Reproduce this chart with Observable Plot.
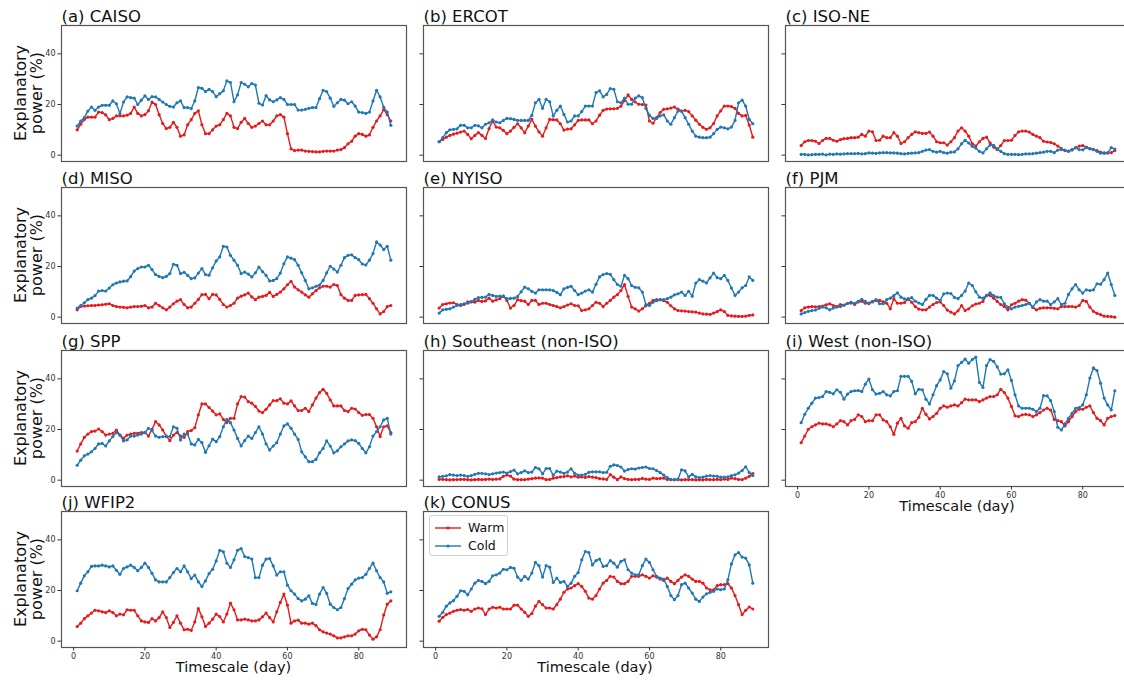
<!DOCTYPE html>
<html><head><meta charset="utf-8">
<script src="https://cdn.jsdelivr.net/npm/d3@7"></script>
<script src="https://cdn.jsdelivr.net/npm/@observablehq/plot@0.6"></script>
<style>
html,body{margin:0;padding:0;background:#fff;overflow:hidden;}
#fig{position:relative;width:1124px;height:680px;overflow:hidden;font-family:"DejaVu Sans",sans-serif;background:#fff;}
.panel{position:absolute;}
.ylab{position:absolute;width:160px;text-align:center;font-size:16px;line-height:16px;color:#111;transform:translate(-50%,-50%) rotate(-90deg);white-space:nowrap;}
.xlab{position:absolute;font-size:14.5px;color:#111;transform:translateX(-50%);white-space:nowrap;}
.legend{position:absolute;border:1px solid #d0d0d0;border-radius:3px;background:#fff;box-sizing:border-box;}
.legend .item{position:absolute;left:0;height:16px;font-size:12.5px;line-height:16px;color:#111;}
.legend svg{position:absolute;left:4px;top:3px;}
.legend span{position:absolute;left:38px;top:0;}
</style></head><body><div id="fig"></div>
<script>
// ---------- data ----------
const days = d3.range(1, 90);
const xTicks = [0, 20, 40, 60, 80];
const yTicks = [0, 20, 40];
const seriesNames = ["Warm", "Cold"];
const titles = ["(a) CAISO","(b) ERCOT","(c) ISO-NE","(d) MISO","(e) NYISO","(f) PJM","(g) SPP","(h) Southeast (non-ISO)","(i) West (non-ISO)","(j) WFIP2","(k) CONUS"];

const caisoWarm = [10,12.2,14.1,15,15,15,17,16.8,15.9,14,14.5,15.5,15.5,15.5,15.8,16.5,19,16.5,15.5,16,17.5,21,20,16,12.5,10.5,11,13,11,7.5,8,12,14,16.5,17.5,12,8.5,8.5,10,11.5,12,14,16.5,15.5,11,10.5,13,14.5,12.5,11,11.5,12.5,13.5,12,12,13.5,15.5,16,15,8.5,2.5,1.8,2,2,1.6,1.5,1.4,1.3,1.3,1.5,1.6,1.6,1.6,2,2.2,3,4.5,5.5,7.5,8.5,8.2,7.5,8,11,13.5,15.5,18,16,13.5];
const caisoCold = [11.5,13.5,14.8,17.4,19,17.7,19,19.7,19.7,19.7,21.4,20.3,16.4,21,23,22.7,22.5,20,21.7,23.4,22,23.1,23,22,21,20,19.3,19,20.7,21.4,18.8,18.8,18.4,21.4,26.7,26.4,25.1,26,25.1,23.1,24.3,25.4,29.3,28.7,21.1,23.8,28.7,28,27,28.3,27.7,20.5,19.8,23.5,21.8,21.1,21.8,22.7,22,20,20,20,17.8,17.8,18.1,18.5,18.8,18.8,22.3,25.6,25.1,22.5,19.3,20.7,22,21.7,20.3,21.1,19.4,17,16.8,16.5,17,21.4,25.6,23,19,17,11.8];
const ercotWarm = [5.3,6.2,7.1,7.8,8.3,8.7,9.1,9.5,8.2,6.5,7.8,8.9,7.8,6.6,10.5,13.5,11.1,10.8,9.8,8.5,9.5,11,12.4,10.8,8.9,11.5,14.1,11.5,9.2,7.5,10.8,14.1,14,13.9,12.4,9.9,10.3,10.4,12,13.7,13.9,13.9,13.9,12.4,13.5,15.8,17.7,18.2,18.3,18.3,18.5,19.4,21.5,23.8,22,21,20.1,20,19.8,13.5,12.6,14.8,16.8,18.1,18.3,18.6,19,18.2,17.4,17.7,17.2,15.5,13.8,12.2,11,10.2,10.8,12.5,15.5,17.5,19.4,19.4,19.2,18.5,16.5,15.5,15.7,11.9,7.1];
const ercotCold = [5.3,6.9,8.9,10,10.2,10.4,11.8,11.8,10.8,10.8,11.8,11.6,10.8,12.2,12.8,13.9,13.1,12.8,13.7,14.5,14.4,14.1,13.7,13.7,13.7,13.7,15.7,20.7,22,18.5,22,21.1,15.5,17.7,19.4,16.1,13.1,13.5,15.5,15.5,17.2,19.4,19.4,19.4,24.7,25.4,23,24,26.3,26,21.1,20.7,22.5,20.1,20.1,22.5,23.4,22.7,18.5,15.7,14.5,14.5,15.5,15.9,13.5,12.2,14.8,17.4,17.4,14.8,12.2,9.5,7.5,7.1,6.9,6.9,7.1,8.5,10.2,11.1,10.8,10.4,11.1,13.7,20.7,21.7,19.4,14.1,12.4];
const isoneWarm = [3.8,5.3,5.8,5.8,5.5,4.6,5.8,6.6,6.6,5.9,5.5,6.1,6.5,6.6,6.9,6.9,7.1,8.2,7.5,9.5,9.2,5.8,5.9,7.5,6.9,6.9,8.9,7.5,4.6,5.3,6.9,8.2,9.2,8.9,8.6,8.6,9.1,7.5,5.3,4.9,4.9,4,5.3,6.9,9.5,10.8,9.5,7.5,4.6,3.6,5.3,6.6,7.1,4.9,3.2,2.2,3.8,5.8,5.8,5.9,7.8,9.2,9.5,9.5,9.1,8.2,7.5,6.9,5.5,5.2,5,4.5,3.6,2.6,1.8,1.6,2.2,2.9,3.6,3.8,3.2,2.5,2.2,1.8,1.2,0.9,0.9,1.0,1.8];
const isoneCold = [0.3,0.3,0.1,0.2,0.3,0.3,0.4,0.1,0.4,0.3,0.5,0.4,0.5,0.6,0.6,0.6,0.7,0.5,0.6,0.9,0.8,0.7,0.9,1.0,1.0,0.9,0.9,0.8,0.6,0.5,0.7,0.8,0.9,1.0,1.5,2.0,2.2,1.5,1.2,1.5,1.0,0.8,1.2,1.3,2.5,4.5,5.9,4.8,3.5,2.8,1.5,0.9,2.5,4.0,3.9,2.5,1.5,0.6,0.3,0.3,0.3,0.2,0.3,0.5,0.5,0.6,0.8,1.0,1.2,1.5,1.5,1.0,2.0,2.2,2.0,1.5,2.0,3.0,2.2,2.1,3.0,2.6,2.2,1.5,0.8,0.8,0.9,3.0,2.4];
const misoWarm = [2.9,4.2,4.4,4.5,4.6,4.6,4.8,4.9,5.1,5.3,4.6,4.2,4.0,3.9,3.7,4.0,4.2,4.2,4.3,4.6,3.7,4.0,5.5,4.6,3.7,2.9,4.0,5.3,6.3,6.9,5.0,3.7,4.0,5.5,7.0,8.9,9.0,7.3,9.0,8.8,7.0,5.0,4.0,4.6,5.5,7.5,8.3,8.8,9.5,8.0,6.9,7.9,8.2,8.6,9.8,8.2,9.0,9.9,11.2,12.8,14.1,11.9,10.8,9.9,8.8,7.9,9.2,10.5,11.6,12.2,12.2,11.9,12.9,12.5,8.9,7.5,6.6,6.6,8.6,8.8,8.9,9.0,7.3,5.5,3.3,1.3,2.2,4.2,4.6];
const misoCold = [3.6,4.6,5.7,6.9,7.5,8.5,10.3,10.5,10.3,11.5,12.8,13.5,13.9,14.2,14.3,16,18.2,19.2,19.8,19.8,20.5,18.8,16.8,16.1,15.6,16.1,17.2,20.9,20.5,17.2,17.7,16.5,15.2,15.5,17.4,19.2,16.8,16.6,19.5,22.2,23.8,28,27.7,24.4,22.5,20.5,17.2,17.8,17,15.9,17.5,19.8,18,16.5,14.3,14.5,15.2,17.4,21.1,23.8,23.3,22.7,20.5,17.5,14.5,11.2,11.6,12.2,12.7,14.5,17.5,20.1,19,17.8,20.5,23.5,24.4,24.6,23.5,22.7,21,20.6,22.5,25.1,29.7,28.5,26.7,28,22.5];
const nyisoWarm = [3.6,5.0,5.3,5.6,5.7,5.0,4.6,5.0,6.0,6.1,5.9,6.6,6.2,6.4,7.5,6.3,6.8,7.3,8.3,6.6,3.6,4.6,6.9,6.5,6.3,5.0,6.6,6.6,5.0,5.5,5.5,5.0,4.6,4.2,3.7,4.2,4.8,5.3,4.6,4.5,2.6,2.9,3.3,4.6,5.9,5.5,4.2,5.5,6.6,7.9,8.9,10.5,12.9,8.2,4.0,3.3,2.4,3.3,4.5,5.5,6.6,6.9,6.9,6.5,5.9,4.5,3.3,2.6,2.5,2.4,2.2,2.1,2.0,1.6,1.3,1.2,1.1,1.6,2.2,2.9,2.2,0.7,0.5,0.4,0.3,0.3,0.4,0.7,0.9];
const nyisoCold = [1.6,2.9,3.1,3.3,4.0,4.6,5.0,5.3,5.5,6.0,7.0,7.7,7.8,7.9,9.0,8.6,8.2,8.3,8.3,7.3,7.4,7.5,8.2,10,11.9,11.2,10.2,9.5,10.8,10.8,10.8,10.8,10.5,9.8,8.9,11.2,11.8,12.2,10.5,8.9,9.5,10.3,10.8,9.9,13,15.9,16.8,17.2,16.9,14.8,12.9,12.2,16.5,15.2,12.5,11.8,11.6,9.9,5.0,4.6,5.9,6.5,6.9,6.9,7.3,7.9,8.8,9.2,9.9,8.6,10.2,8.3,13.5,14.8,14.2,13.5,15.5,17.4,15.6,15.2,16.5,14.5,11.5,8.6,9.9,11.6,12.5,15.9,14.5];
const pjmWarm = [2.6,3.7,4.0,4.2,4.1,4.2,4.4,4.9,5.3,4.6,4.2,5.0,4.7,5.4,5.9,5.0,6.0,6.3,5.5,5.6,6.2,6.6,6.6,6.0,5.5,3.3,7.3,5.5,5.5,5.8,7.3,5.9,4.2,3.2,2.9,2.9,4.0,5.0,5.8,6.0,4.6,2.8,2.0,1.3,2.5,4.6,2.6,3.3,4.5,5.2,5.5,6.2,8.6,8.6,7.5,6.2,5.0,4.2,2.9,4.9,5.5,6.3,6.9,6.7,5.5,3.8,2.9,3.5,3.7,3.7,3.7,3.5,3.3,4.2,4.2,4.2,4.2,4.0,4.6,6.6,6.2,4.0,2.3,1.5,1.0,0.4,0.3,0.2,0.0];
const pjmCold = [1.3,1.8,2.3,2.6,2.8,3.5,4.0,3.7,2.9,3.6,4.0,4.2,4.8,5.5,5.5,5.5,6.2,7.0,6.2,5.3,6.0,6.9,5.3,5.3,6.9,7.5,8.5,9.6,7.9,7.2,6.9,7.7,6.3,5.6,5.0,7.0,8.6,8.6,7.5,6.6,9.2,9.5,9.3,7.8,7.3,8.6,10.3,13.5,12.5,10,7.9,7.5,8.5,9.6,8.5,7.9,7.8,5.3,4.0,3.3,4.0,4.3,4.6,5.0,5.5,4.0,6.0,6.9,6.3,6.3,5.0,6.0,7.3,5.0,5.5,9.0,11.2,12.9,10.8,9.5,10.8,10.5,10.8,13.2,13,14.8,17.4,12.9,8.6];
const sppWarm = [11.5,14.3,16.9,18.2,19.2,19.4,20.2,19.2,17.8,18.2,18.5,19.8,17.8,16.5,17.8,18.2,18.5,18.5,18.8,18.8,17.4,20.1,23.1,21.8,19.8,17.4,15.6,17.8,18.8,17.4,16.9,19.2,19.6,20.7,25.8,30.1,30.1,28.7,27.3,25.8,26.2,24,22.7,24.4,24.4,30.1,33,32.8,31,30.4,29.1,27.3,26.7,28,29.7,31.4,31.4,32.1,30.4,30.1,31.3,29.3,27.5,27.5,28.4,27.1,29.7,32.4,34.6,35.9,34.3,31.7,29.3,29.3,29.3,27.5,27.1,28.4,28.1,26.7,25.6,25.9,25.9,24.4,21.1,17.2,21.1,21.4,18.8];
const sppCold = [5.9,7.9,9.6,10.3,11.2,12.5,14.3,14.5,13.5,15.5,17.2,18.8,17.8,15.5,15.9,17.4,17.4,17.8,18.2,18.8,20.5,19.6,17.4,16.9,17.2,17.2,17.2,21.1,20.5,15.9,18.2,18.2,14.3,13.9,16.1,14.8,11,13.6,16.2,15.2,17.2,21.1,24,22.7,19.8,16.5,13.5,15.6,17.4,16.5,18.8,21.1,18.2,14.3,11.9,13.5,14.8,18.2,21.4,22.2,20.5,18.2,16.1,11.2,9.2,7.3,7.3,8.2,10.8,12.5,15.5,13.5,10.8,11.6,13.2,14.3,15.5,15.9,15.6,14.5,12.5,10.8,13.2,17.4,19.2,21.1,23.8,24.4,18.2];
const southeastWarm = [0.3,0.3,0.2,0.1,0.2,0.2,0.3,0.3,0.2,0.1,0.2,0.3,0.2,0.3,0.4,0.3,0.4,0.5,1.5,2.0,1.6,0.4,0.2,0.2,0.2,0.4,0.6,0.8,0.9,0.8,0.2,0.3,0.8,1.0,1.3,1.4,1.7,1.3,1.6,1.2,1.3,1.1,1.4,1.2,1.0,0.6,0.5,0.3,2.2,1.2,0.2,1.3,0.6,0.3,0.2,0.3,0.3,0.7,0.4,0.3,0.8,0.6,0.7,0.8,0.3,0.2,0.2,0.2,0.1,0.2,0.2,0.2,0.1,0.2,0.1,0.3,0.2,0.2,0.3,0.2,0.4,0.3,0.8,0.6,0.3,0.2,0.8,1.5,2.6];
const southeastCold = [1.3,1.5,1.7,2.2,2.0,1.8,2.0,1.8,1.5,1.8,2.3,2.7,2.7,2.5,2.2,2.5,2.8,3.0,3.2,2.8,3.4,4.0,2.5,3.0,3.7,3.0,3.2,5.0,4.5,2.5,4.6,4.6,1.9,3.6,3.2,2.7,3.2,4.5,2.7,2.0,2.0,2.3,3.1,3.3,3.3,3.3,3.0,3.1,5.5,6.0,5.8,5.2,3.6,4.2,4.5,4.4,4.8,5.0,5.2,4.6,4.5,3.8,3.0,2.0,1.0,0.3,0.2,0.4,4.1,3.7,1.3,2.3,1.3,1.0,1.2,1.6,1.8,1.6,1.5,1.2,1.2,1.3,1.8,2.1,2.8,3.8,5.3,3.0,1.8];
const westWarm = [14.8,17.4,20.1,21.1,21.8,22.5,22.2,22.2,21.8,21.1,22.2,23.5,23.1,21.8,23.5,24,25.8,25.1,23.1,23.5,23.5,25.8,25.8,23.8,23.1,21.1,18.1,22.5,24.4,21.4,20.5,22.7,23.1,24.8,28.4,26,24.2,25.1,26.4,28.4,29.3,28.8,29.3,29.7,29.3,30.6,32,31.7,31.7,31.7,31,31.7,32.4,33,33,33.7,35.9,34.6,32.4,29.1,25.4,25.1,25.8,26,25.8,25.1,25.8,26.7,27.7,28.4,27.7,24,23.5,23.1,21.4,23.1,25.1,27.1,28,28,28.8,29.3,26.7,24.4,23.5,21.8,24.4,25.1,25.5];
const westCold = [22.7,26,28.4,30.4,32.4,32.6,33,35,34.7,34.1,35.7,34.7,32,34,35,35.3,35.4,35,37.9,39.9,35.7,34,34.3,35,33.7,33.3,35,35.3,41,41,41,39,34.1,35.9,35.7,32,30.1,33.7,37.3,39.6,42.9,42,36.3,39.2,45.2,46.5,47.8,46.2,47.6,48.6,38.6,36.6,45.2,47.6,46.9,44.7,41.9,42,43.6,39.4,33.7,29.3,28.4,28.4,28.4,28,27.1,28.4,33.4,33.3,31.4,27.1,20.9,19.8,22.2,24.4,26.4,28.4,28.7,29.7,33.7,40.3,44.3,43.3,38.3,32.4,29.7,27.7,35.3];
const wfip2Warm = [5.8,7.1,8.9,10,11.1,12.2,12,11.6,11.3,12,11.3,10,10.7,10.4,12.4,12.2,12.2,10,8,7.6,7.4,8.9,8,9.3,11.6,9.3,5.4,7.4,10,7.1,4.5,4.7,4.3,7.6,12.9,9.6,5.8,7.1,8.7,10.7,9.7,7.6,10.7,15,12.4,8.4,8.4,8.7,8.4,8,8,8.4,9.6,11.1,9.3,7.6,11.6,15.3,18.6,14.2,7.1,8,8.3,7.1,7.1,6.7,7.1,6.1,4.5,3.7,3.2,2.8,2.1,1.3,1.3,1.7,2.1,2.1,2.8,4.1,4.7,4.5,2.4,0.8,1.7,4.5,10.3,14.6,15.9];
const wfip2Cold = [19.9,22.9,25.8,27.4,29.5,29.7,29.7,30,29.7,29.3,29.7,28,26.4,28.7,29.3,30,29.1,27.8,29.1,30.8,29.1,26.8,24.2,23.4,23.4,23.4,25.1,27.1,28.7,27.4,29.7,27.4,24.7,26.1,23.4,21.6,23.8,26.7,28.4,31.7,35.9,35.3,30.8,29.1,32.1,35.9,36.6,33.4,33,32.4,25.1,25.1,30,32.4,32.6,29.7,26.1,27.4,27.4,22.1,19.9,18.6,16.8,15.9,16.6,17.9,14.9,14.5,18.6,21.2,18.9,14.6,13.3,12.4,13.3,16.8,20.8,22.5,24.2,24.9,25.1,26.4,28.7,30.8,27.8,25.1,23.4,18.9,19.5];
const conusWarm = [7.9,9.4,10.5,11.1,11.8,12.2,12.5,12.2,12.5,11.8,12.7,13.1,12.8,10.5,12.7,13.4,13.1,13.4,12.7,12.7,12.7,14.2,14.2,12.7,11.4,9.8,10.9,13.8,15.7,14.4,13.1,13.1,12.7,14.4,16.6,19.3,20.6,21,21.9,22.7,21.6,19.7,17,16.6,18,20.6,22.9,24,25.6,25.3,23.6,22.7,22.7,23.6,25.6,25.6,25.6,26.2,25.6,24.9,25.8,25.3,24.5,24,24.9,23.6,22.7,24,25.3,26.2,25.6,24.5,23.6,23.6,22.9,21,20.3,20.3,21.9,22.3,22.3,22.7,21,18,14.4,10.5,12.2,13.5,12.7];
const conusCold = [9.8,11.4,13.8,15.1,16,17.7,19.9,19.7,18.3,20.6,22.9,24,23.6,22.7,23.6,25.8,26.2,26.9,28.4,28.2,29.1,28.8,25.3,24,25.6,24.5,26.9,31.1,29.8,25.3,29.8,29.2,23.2,24.9,23.2,23.6,21.6,22.9,25.6,27.1,32.1,35.4,35,30.1,31.8,32.4,29.5,29.8,31.8,30.8,29.2,31.5,32.1,28.2,26.9,26.2,26.2,29.8,32.4,31.1,28.2,25.6,24.9,24.5,21.6,18,16.4,18,22.3,22.9,21,19,16.6,15.7,17.4,18.7,19.3,19.7,20.6,20.3,20.6,24.2,30.5,34.1,35,33.2,32.8,30.1,22.9];

const warmSeries = [caisoWarm, ercotWarm, isoneWarm, misoWarm, nyisoWarm, pjmWarm, sppWarm, southeastWarm, westWarm, wfip2Warm, conusWarm];
const coldSeries = [caisoCold, ercotCold, isoneCold, misoCold, nyisoCold, pjmCold, sppCold, southeastCold, westCold, wfip2Cold, conusCold];

// ---------- layout ----------
const RED = "#e41a1c", BLUE = "#1f77b4";
const W = 345, H = 136;
const colLeft = [61, 422.5, 784.5];
const rowTop = [25, 187.3, 349.6, 511];
const mL = 30, mR = 2, mT = 26, mB = 22;
const fig = document.getElementById("fig");

function rows(vals) { return days.map((d, i) => ({day: d, value: vals[i]})); }

titles.forEach((title, k) => {
  const row = Math.floor(k / 3), col = k % 3;
  const bottom = (k >= 8);
  const warm = rows(warmSeries[k]), cold = rows(coldSeries[k]);
  const marks = [
    Plot.axisY({ticks: yTicks, tickSize: 3.5, tickPadding: 2.5, fontSize: 8, label: null,
      tickFormat: col === 0 ? (d => String(d)) : (() => "")}),
    Plot.line(warm, {x: "day", y: "value", stroke: RED, strokeWidth: 1.4}),
    Plot.dot(warm, {x: "day", y: "value", fill: RED, r: 1.6}),
    Plot.line(cold, {x: "day", y: "value", stroke: BLUE, strokeWidth: 1.4}),
    Plot.dot(cold, {x: "day", y: "value", fill: BLUE, r: 1.6}),
    Plot.frame({stroke: "#555", strokeWidth: 1.2}),
    Plot.text([title], {frameAnchor: "top-left", dy: -4, lineAnchor: "bottom", textAnchor: "start", fontSize: 16.5, fill: "#111"})
  ];
  if (bottom) marks.push(Plot.axisX({ticks: xTicks, tickSize: 3.5, tickPadding: 2, fontSize: 8, label: null}));
  const svg = Plot.plot({
    width: W + mL + mR, height: H + mT + mB,
    marginLeft: mL, marginRight: mR, marginTop: mT, marginBottom: mB,
    x: bottom ? {domain: [-3.4, 93.4]} : {domain: [-3.4, 93.4], axis: null},
    y: {domain: [-2.5, 51.2]},
    style: {background: "transparent", color: "#333", fontFamily: "DejaVu Sans, sans-serif", overflow: "visible"},
    marks
  });
  svg.classList.add("panel");
  svg.style.left = (colLeft[col] - mL) + "px";
  svg.style.top = (rowTop[row] - mT) + "px";
  svg.style.maxWidth = "none";
  fig.appendChild(svg);

  if (col === 0) {
    const yl = document.createElement("div");
    yl.className = "ylab";
    yl.innerHTML = "Explanatory<br>power (%)";
    yl.style.left = "29px";
    yl.style.top = (rowTop[row] + H / 2) + "px";
    fig.appendChild(yl);
  }
  if (bottom) {
    const xl = document.createElement("div");
    xl.className = "xlab";
    xl.textContent = "Timescale (day)";
    xl.style.left = (colLeft[col] + W / 2) + "px";
    xl.style.top = (rowTop[row] + H + 12) + "px";
    fig.appendChild(xl);
  }
});

// legend in panel (k)
const lg = document.createElement("div");
lg.className = "legend";
lg.style.left = "429px"; lg.style.top = "515px"; lg.style.width = "79px"; lg.style.height = "41px";
[[seriesNames[0], RED], [seriesNames[1], BLUE]].forEach(([name, c], i) => {
  const it = document.createElement("div");
  it.className = "item";
  it.style.top = (4 + i * 18) + "px";
  it.style.width = "78px";
  it.innerHTML = `<svg width="30" height="10"><line x1="1" y1="5" x2="27" y2="5" stroke="${c}" stroke-width="1.4"/><circle cx="14" cy="5" r="1.6" fill="${c}"/></svg><span>${name}</span>`;
  lg.appendChild(it);
});
fig.appendChild(lg);
</script></body></html>
